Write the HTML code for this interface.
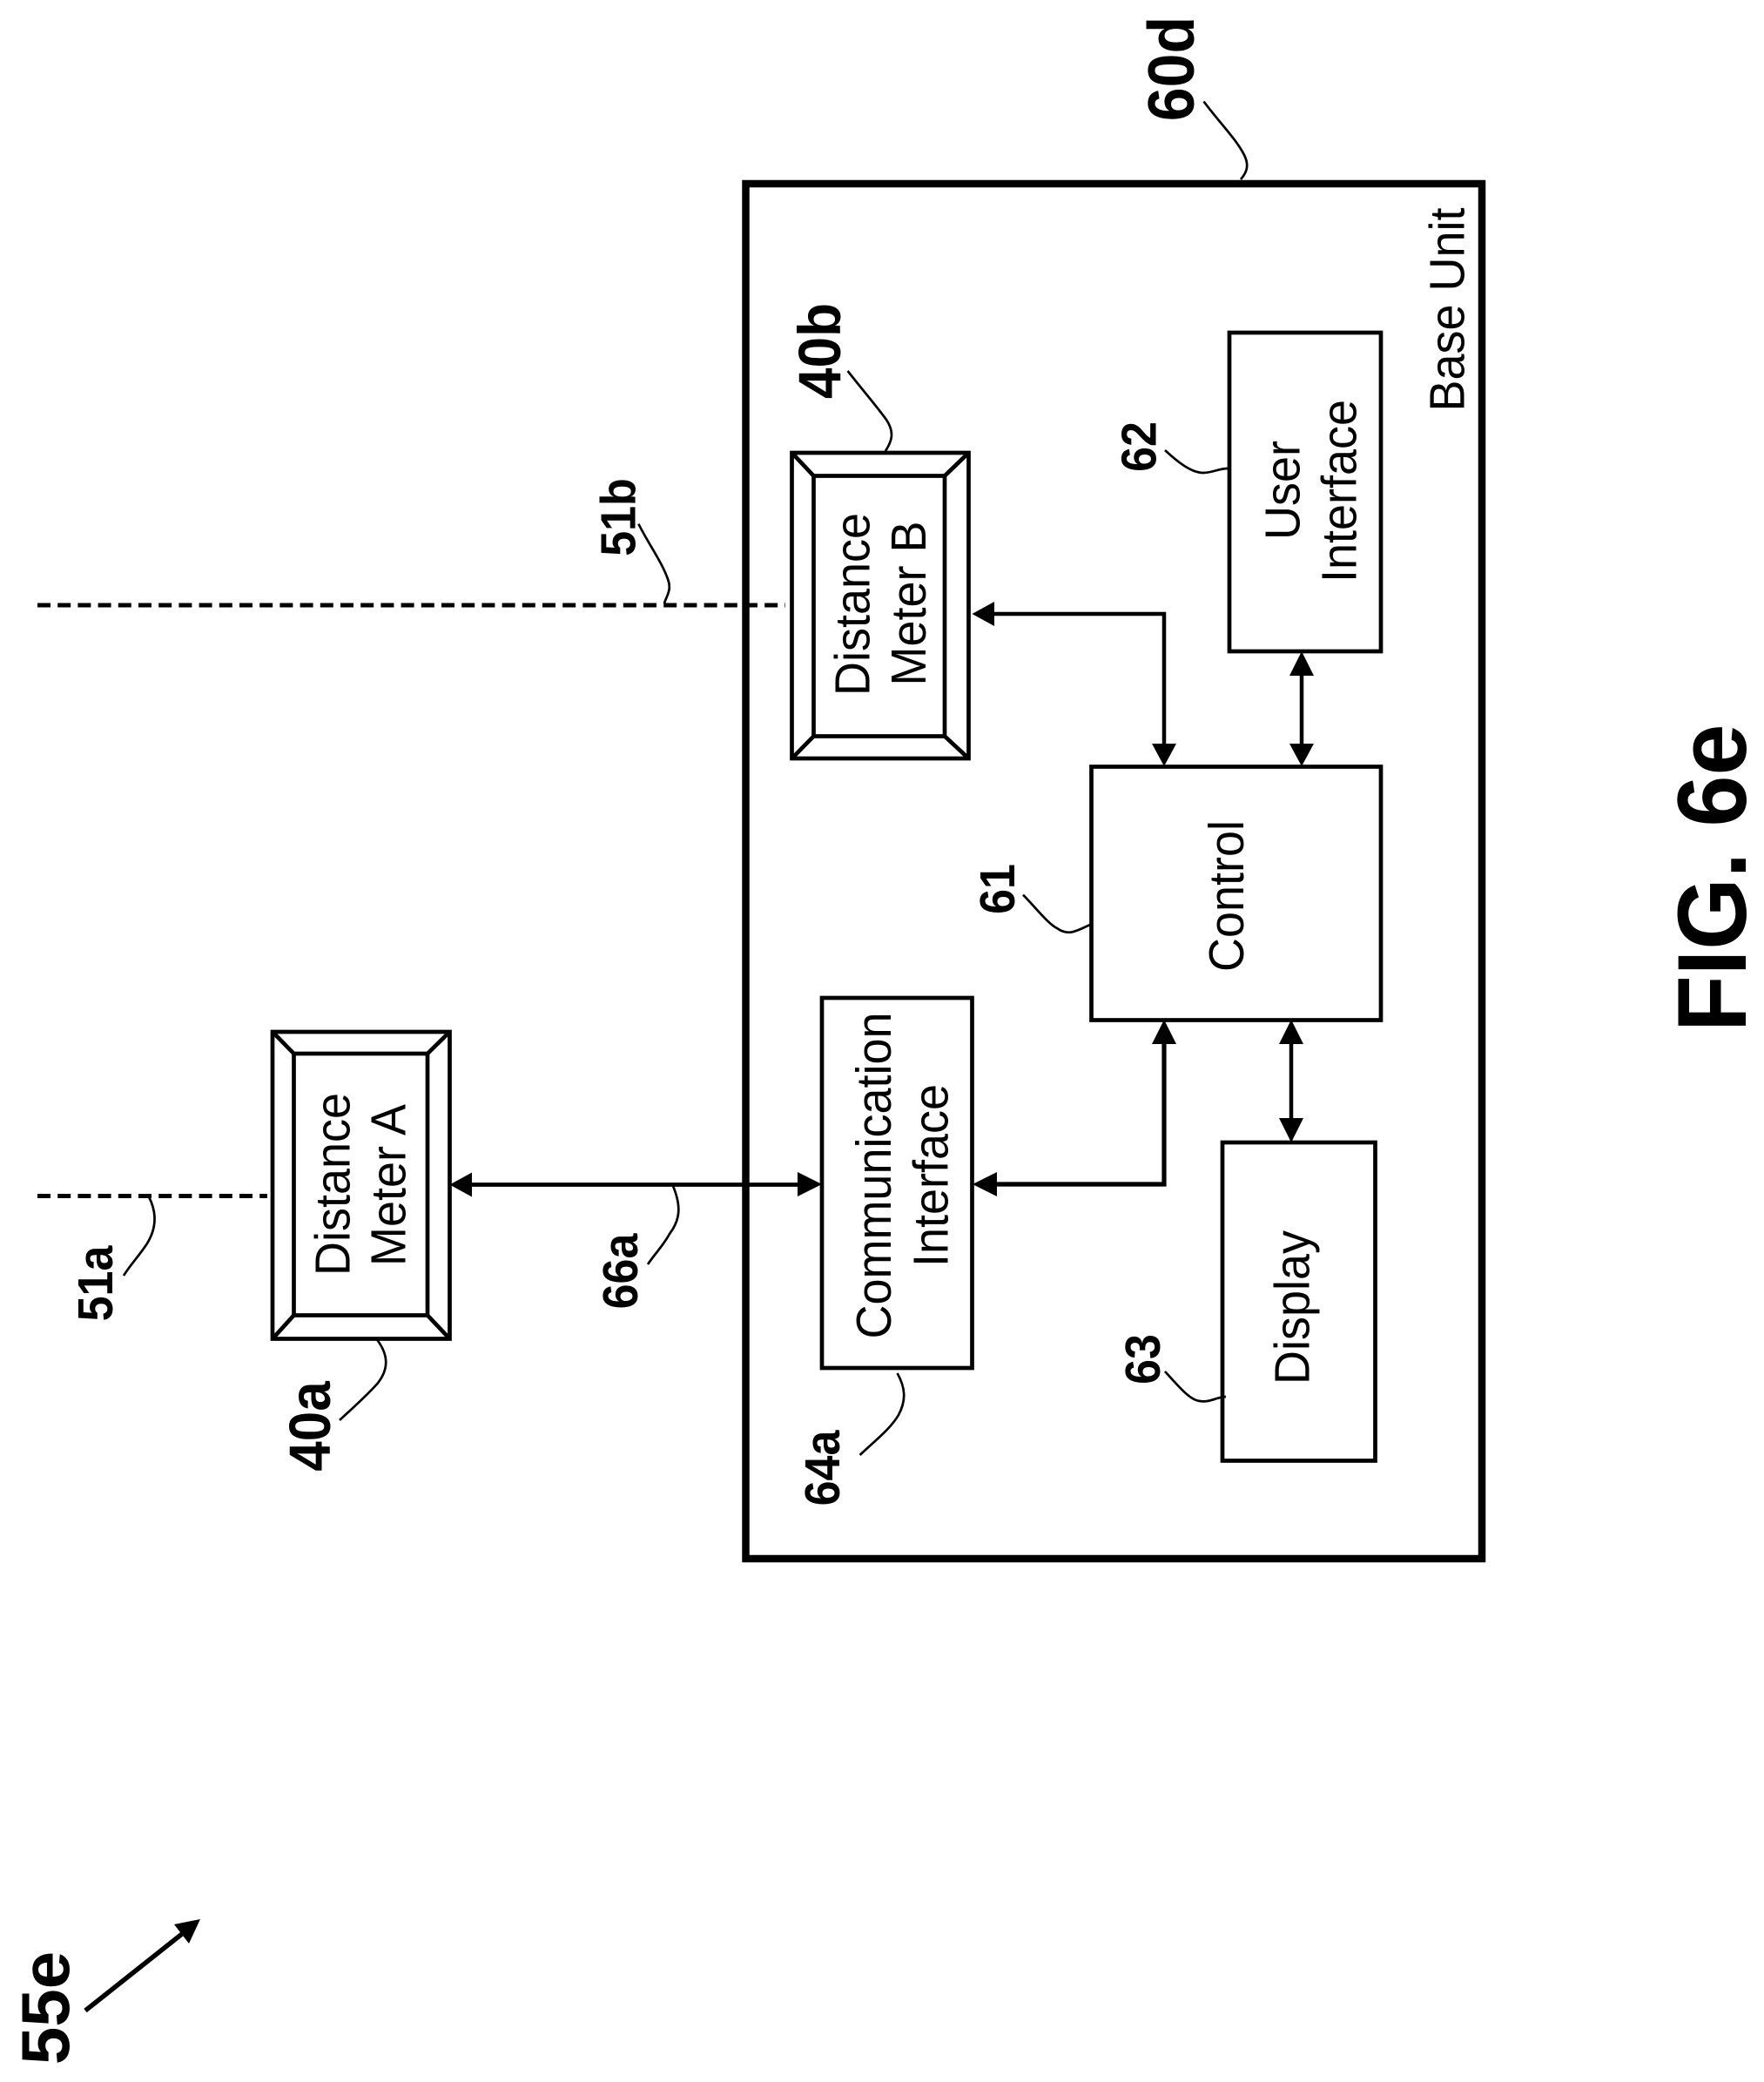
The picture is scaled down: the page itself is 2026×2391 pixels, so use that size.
<!DOCTYPE html>
<html><head><meta charset="utf-8"><style>
html,body{margin:0;padding:0;background:#fff}
svg{display:block}
text{font-family:"Liberation Sans",Arial,sans-serif;fill:#000}
.n{font-size:54px}
.b{font-weight:bold;font-size:52px}
</style></head><body>
<svg width="2026" height="2391" viewBox="0 0 2026 2391" xmlns="http://www.w3.org/2000/svg">
<rect width="2026" height="2391" fill="#fff"/>
<g fill="none" stroke="#000">
<line x1="43" y1="695" x2="902" y2="695" stroke-width="5" stroke-dasharray="15 8.2"/>
<line x1="43" y1="1373.5" x2="307" y2="1373.5" stroke-width="5" stroke-dasharray="15 8.2"/>
<rect x="856.5" y="211" width="845.5" height="1579" stroke-width="8.5"/>
<rect x="1412" y="382" width="174" height="366" stroke-width="4.7"/>
<rect x="1253.5" y="880.5" width="332.5" height="291" stroke-width="4.7"/>
<rect x="944" y="1146" width="172.5" height="425" stroke-width="4.7"/>
<rect x="1404" y="1312" width="175.5" height="365.5" stroke-width="4.7"/>
<g stroke-width="4.7">
<rect x="909.5" y="520" width="203" height="351"/>
<rect x="934.5" y="546.5" width="150.5" height="299"/>
<path d="M909.5 520L934.5 546.5M1112.5 520L1085 546.5M909.5 871L934.5 845.5M1112.5 871L1085 845.5"/>
<rect x="313" y="1185" width="203.5" height="352.5"/>
<rect x="337.5" y="1210" width="153.5" height="300.5"/>
<path d="M313 1185L337.5 1210M516.5 1185L491 1210M313 1537.5L337.5 1510.5M516.5 1537.5L491 1510.5"/>
</g>
<path d="M1135 705H1337V858" stroke-width="4.5"/>
<path d="M1495 770V858" stroke-width="4.5"/>
<path d="M1483 1193V1290" stroke-width="4.5"/>
<path d="M540 1360.5H920" stroke-width="4.7"/>
<path d="M1140 1360H1337V1193" stroke-width="5.2"/>
<g stroke-width="2.7">
<path d="M1382.5 116.5C1400 140 1420 160 1429 178C1435 190 1432 198 1425 206"/>
<path d="M973.6 426C990 447 1008 468 1018 482C1028 497 1024 507 1017 518"/>
<path d="M1338 517C1352 530 1368 543 1382 543C1392 543 1400 538 1410 538"/>
<path d="M1175 1027.6C1190 1043 1205 1062 1214 1066C1228 1076 1238 1068 1252 1062"/>
<path d="M1338 1575C1352 1590 1366 1608 1378 1609C1390 1611 1398 1604 1408 1604"/>
<path d="M1030.6 1577C1040 1594 1041 1608 1032 1625C1022 1642 1003 1656 987.6 1671"/>
<path d="M773 1362C782 1384 782 1400 769 1417C762 1430 752 1440 744 1452"/>
<path d="M171 1374.5C180 1392 180 1410 169 1428C160 1442 150 1452 142 1465"/>
<path d="M433.4 1539C446 1556 447 1572 433.4 1589C420 1604 404 1618 390 1631"/>
<path d="M733.4 601.7C745 625 760 645 767 665C772 678 765 685 763 693"/>
</g>
<line x1="98" y1="2309" x2="214" y2="2217" stroke-width="5.5"/>
</g>
<g fill="#000">
<path d="M1116.5 705L1142 691V719Z"/>
<path d="M1337 880L1323 854H1351Z"/>
<path d="M1495 748L1481 776H1509Z"/>
<path d="M1495 880L1481 854H1509Z"/>
<path d="M1483 1171L1469 1199H1497Z"/>
<path d="M1483 1312L1469 1284H1497Z"/>
<path d="M1337 1171L1323 1199H1351Z"/>
<path d="M1117 1360L1145 1346V1374Z"/>
<path d="M516.5 1360.5L542 1346.5V1374.5Z"/>
<path d="M944 1360L916 1346V1374Z"/>
<path d="M230 2204L200 2210L217 2232Z"/>
</g>
<g class="labels">
<text class="n" text-anchor="middle" transform="translate(1023 1350) rotate(-90) scale(1 1.05)">Communication</text>
<text class="n" text-anchor="middle" transform="translate(1088.5 1350) rotate(-90) scale(1 1.05)">Interface</text>
<text class="n" text-anchor="middle" transform="translate(998.5 694) rotate(-90) scale(1 1.05)">Distance</text>
<text class="n" text-anchor="middle" transform="translate(1063 693) rotate(-90) scale(1 1.05)">Meter B</text>
<text class="n" text-anchor="middle" transform="translate(1681.5 355.5) rotate(-90) scale(1 1.05)">Base Unit</text>
<text class="n" text-anchor="middle" transform="translate(1492.5 563) rotate(-90) scale(1 1.05)">User</text>
<text class="n" text-anchor="middle" transform="translate(1557.5 564) rotate(-90) scale(1 1.05)">Interface</text>
<text class="n" text-anchor="middle" transform="translate(1428 1029) rotate(-90) scale(1 1.05)">Control</text>
<text class="n" text-anchor="middle" transform="translate(1503.5 1501.5) rotate(-90) scale(1 1.05)">Display</text>
<text class="n" text-anchor="middle" transform="translate(401.5 1360) rotate(-90) scale(1 1.05)">Distance</text>
<text class="n" text-anchor="middle" transform="translate(465.5 1361) rotate(-90) scale(1 1.05)">Meter A</text>
<text class="b" style="font-size:70px" text-anchor="middle" transform="translate(1371 79) rotate(-90) scale(1 1.08)">60d</text>
<text class="b" style="font-size:64px" text-anchor="middle" transform="translate(965 403) rotate(-90) scale(1 1.08)">40b</text>
<text class="b" text-anchor="middle" transform="translate(1327.5 513) rotate(-90) scale(1 1.08)">62</text>
<text class="b" text-anchor="middle" transform="translate(1165 1021) rotate(-90) scale(1 1.08)">61</text>
<text class="b" text-anchor="middle" transform="translate(964 1686) rotate(-90) scale(1 1.08)">64a</text>
<text class="b" text-anchor="middle" transform="translate(1332 1561) rotate(-90) scale(1 1.08)">63</text>
<text class="b" text-anchor="middle" transform="translate(732 1460) rotate(-90) scale(1 1.08)">66a</text>
<text class="b" text-anchor="middle" transform="translate(129 1474) rotate(-90) scale(1 1.08)">51a</text>
<text class="b" style="font-size:62px" text-anchor="middle" transform="translate(379 1638) rotate(-90) scale(1 1.08)">40a</text>
<text class="b" text-anchor="middle" transform="translate(729.5 594) rotate(-90) scale(1 1.08)">51b</text>
<text class="b" style="font-size:78px" text-anchor="middle" transform="translate(79 2306) rotate(-90)">55e</text>
<text class="b" style="font-size:106px" text-anchor="start" transform="translate(2005 1185) rotate(-90) scale(1 1.06)">FIG. 6e</text>
</g>
</svg>
</body></html>
